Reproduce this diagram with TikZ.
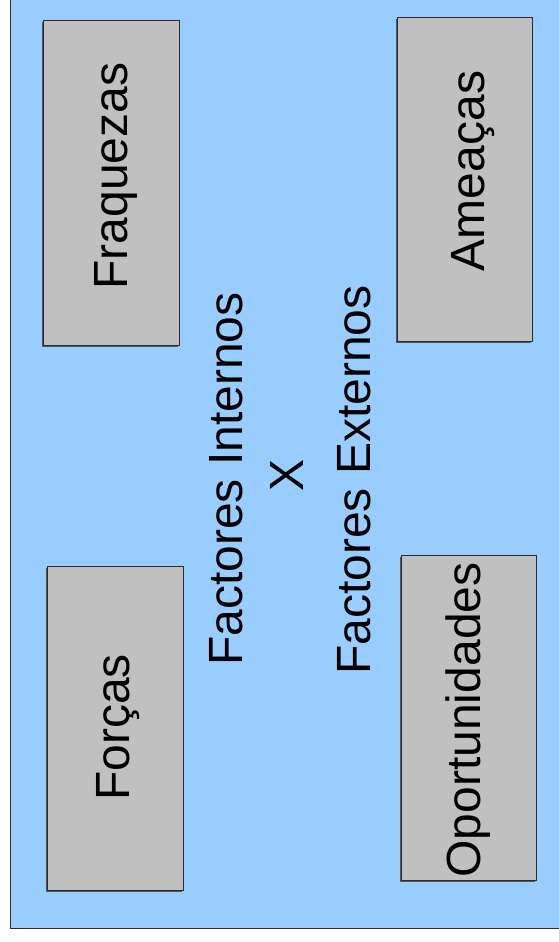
\documentclass[tikz,border=0pt]{standalone}
\usepackage{fontspec}
\setmainfont{Liberation Sans}
\usetikzlibrary{shadows}
\definecolor{panelblue}{HTML}{99CCFF}
\definecolor{boxgray}{HTML}{C0C0C0}
\definecolor{edgedark}{HTML}{2B2B2B}
\definecolor{shadowgray}{HTML}{4A5868}
\tikzset{
  quadrant/.style={draw=edgedark, line width=0.9pt, fill=boxgray,
    rectangle, inner sep=0pt, outer sep=0pt,
    minimum width=135.5pt, minimum height=324.5pt,
    drop shadow={shadow xshift=-1.4pt, shadow yshift=-1.4pt,
      fill=shadowgray, opacity=1}},
  biglabel/.style={rotate=90, anchor=base, inner sep=0pt,
    font=\fontsize{48}{58}\selectfont},
}
\begin{document}
\begin{tikzpicture}[x=1pt, y=-1pt]
  \useasboundingbox (0,0) rectangle (559,942);
  % panel behind everything
  \draw[fill=panelblue, draw=edgedark, line width=1.1pt] (10.5,-5) rectangle (566,928.5);

  % the four quadrants
  \node[quadrant] (fraq) at (111.5,183) {};
  \node[quadrant] (amea) at (465,179.5) {};
  \node[quadrant] (forc) at (115.5,728.5) {};
  \node[quadrant] (oport) at (469,718) {};

  % quadrant captions
  \node[biglabel] (tfraq) at (127,176) {Fraquezas};
  \node[biglabel] (tamea) at (484,171) {Ameaças};
  \node[biglabel] (tforc) at (129,727.5) {Forças};
  \node[biglabel] (toport) at (480.5,720) {Oportunidades};

  % central caption
  \node[biglabel] (intern) at (242,479) {Factores Internos};
  \node[biglabel] (versus) at (303,475) {X};
  \node[biglabel] (extern) at (370,480) {Factores Externos};
\end{tikzpicture}
\end{document}
